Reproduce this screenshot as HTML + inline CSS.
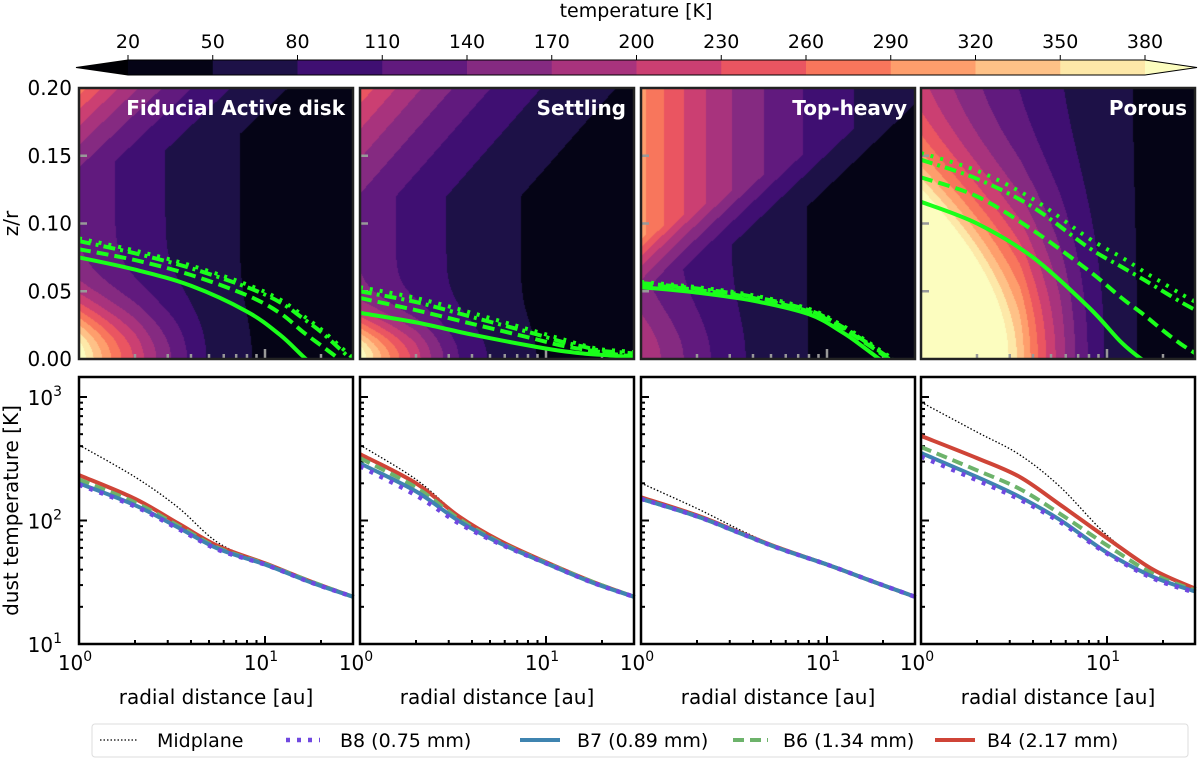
<!DOCTYPE html>
<html><head><meta charset="utf-8"><style>
html,body{margin:0;padding:0;background:#fff;width:1200px;height:759px;overflow:hidden}
#wrap{position:relative;width:1200px;height:759px}
canvas{position:absolute}
svg{position:absolute;left:0;top:0}
text{font-family:"DejaVu Sans","Liberation Sans",sans-serif;fill:#000}
</style></head><body>
<div id="wrap">
<canvas id="c0" width="274" height="271" style="left:79px;top:88px"></canvas>
<canvas id="c1" width="274" height="271" style="left:360px;top:88px"></canvas>
<canvas id="c2" width="274" height="271" style="left:641px;top:88px"></canvas>
<canvas id="c3" width="274" height="271" style="left:921px;top:88px"></canvas>
<svg id="svg" width="1200" height="759" xmlns="http://www.w3.org/2000/svg"></svg>
</div>
<script>
// ---------- data ----------
const panelNames = ["Fiducial Active disk","Settling","Top-heavy","Porous"];
const rPts = [1,2,3.4,5.6,10,17.7,30];
const midT = [[409,225,128,66,45,32,24],[409,215,110,70,46,32,24],[201,125,84,60,44,32,24],[910,520,340,187,76,40,27.5]];
const b4T = [[233,150,95,62,45,32,24],[345,200,108,69,46,32,24],[154,110,80,59.5,44,32,24],[484,320,225,134,72,40,28]];
const b6T = [[215,140,91,60,44.5,32,24],[320,185,103,67,45.5,32,24],[150,108,79,59,44,32,24],[394,255,180,113,63,37,27]];
const b7T = [[200,133,88,59,44,31.5,24],[290,172,99,66,45,31.5,24],[150,108,79,59,44,32,24],[352,225,155,101,55,35,26.5]];
const b8T = [[195,130,86,58,44,31.5,24],[275,160,95,65,45,31.5,24],[150,108,79,59,44,32,24],[330,212,148,97,54,34,26]];
// tau=1 surfaces (z/r) for each panel
const surfR = [1,2,4,8,12,16,20,25,30];
const surfB4 = [[0.075,0.066,0.054,0.035,0.018,0.002,-0.01,-0.02,-0.03],[0.034,0.027,0.018,0.010,0.006,0.004,0.003,0.002,0.001],[0.053,0.049,0.043,0.033,0.020,0.008,-0.002,-0.01,-0.02],[0.116,0.100,0.075,0.038,0.012,-0.002,-0.01,-0.02,-0.03]];
const surfB6 = [[0.081,0.073,0.062,0.047,0.034,0.020,0.010,0.000,-0.01],[0.045,0.036,0.026,0.016,0.010,0.007,0.005,0.003,0.002],[0.055,0.051,0.045,0.035,0.023,0.012,0.003,-0.006,-0.015],[0.134,0.120,0.095,0.065,0.045,0.032,0.021,0.011,0.004]];
const surfB7 = [[0.087,0.078,0.067,0.053,0.042,0.030,0.020,0.008,-0.002],[0.050,0.042,0.031,0.020,0.013,0.009,0.006,0.005,0.004],[0.056,0.052,0.046,0.036,0.024,0.013,0.004,-0.005,-0.014],[0.147,0.133,0.112,0.082,0.068,0.058,0.050,0.042,0.036]];
const surfB8 = [[0.089,0.080,0.069,0.055,0.044,0.032,0.022,0.010,0.000],[0.053,0.045,0.034,0.022,0.015,0.010,0.007,0.006,0.005],[0.057,0.053,0.047,0.037,0.025,0.014,0.005,-0.004,-0.013],[0.152,0.139,0.118,0.089,0.075,0.064,0.056,0.048,0.042]];
// temperature field model params per panel
const tIrr0 = [138,138,140,185];
const tIrrP = [0.51,0.51,0.5,0.5];
const heatB = [11.6,7.5,19,0];
const heatZ0 = [0.14,0.12,0.05,0.2];
const heatZ1 = [0.03,0.0,0.07,0];
const heatCap = [0.1,0.08,0.04,0];
const midZh = [0.04,0.03,0.04,0.11];
const cLevels = [20,50,80,110,140,170,200,230,260,290,320,350,380];
const cColors = ["#050416","#1d1147","#3f0f72","#611a7e","#852a81","#a8337d","#cb3f72","#ea5561","#f8765c","#fe9e6c","#fec187","#fde8a8"];
const cUnder = "#000004", cOver = "#fcfdbf";
const yTickExp = [1,2,3];

// ---------- layout ----------
const PX = [79,360,641,921], PW = 274;
const TOP_Y0 = 88, TOP_H = 271, BOT_Y0 = 377, BOT_H = 267;
const DEC_X = 186, DEC_Y = 123.5;
const xr = (i,r)=>PX[i]+DEC_X*Math.log10(r);
const yT = T=>BOT_Y0+BOT_H-(Math.log10(T)-1)*DEC_Y;
const yz = z=>TOP_Y0+TOP_H-TOP_H*z/0.2;
const NS="http://www.w3.org/2000/svg";
const svg=document.getElementById('svg');
function mk(tag,attrs,parent){const e=document.createElementNS(NS,tag);for(const k in attrs)e.setAttribute(k,attrs[k]);(parent||svg).appendChild(e);return e;}
function smoothRaw(pts){ // pts: [[x,y],...] Catmull-Rom
  let d='M'+pts[0][0].toFixed(1)+','+pts[0][1].toFixed(1);
  for(let k=0;k<pts.length-1;k++){
    const p0=pts[Math.max(k-1,0)],p1=pts[k],p2=pts[k+1],p3=pts[Math.min(k+2,pts.length-1)];
    const c1=[p1[0]+(p2[0]-p0[0])/6,p1[1]+(p2[1]-p0[1])/6],c2=[p2[0]-(p3[0]-p1[0])/6,p2[1]-(p3[1]-p1[1])/6];
    d+=' C'+c1[0].toFixed(1)+','+c1[1].toFixed(1)+' '+c2[0].toFixed(1)+','+c2[1].toFixed(1)+' '+p2[0].toFixed(1)+','+p2[1].toFixed(1);
  }
  return d;
}
function interpLog(xs,ys,x){const lx=Math.log10(x);for(let k=0;k<xs.length-1;k++){const a=Math.log10(xs[k]),b=Math.log10(xs[k+1]);if(lx<=b||k==xs.length-2){const t=(lx-a)/(b-a);return Math.pow(10,Math.log10(ys[k])+t*(Math.log10(ys[k+1])-Math.log10(ys[k])));}}}
function colorFor(T){if(T<cLevels[0])return cUnder;if(T>=cLevels[cLevels.length-1])return cOver;return cColors[Math.floor((T-20)/30)];}
function hex(c){return [parseInt(c.substr(1,2),16),parseInt(c.substr(3,2),16),parseInt(c.substr(5,2),16)];}

// ---------- heatmaps ----------
for(let i=0;i<4;i++){
  const cv=document.getElementById('c'+i),ctx=cv.getContext('2d'),img=ctx.createImageData(274,271);
  for(let px=0;px<274;px++){
    const r=Math.pow(10,(px+0.5)/DEC_X);
    const tirr=tIrr0[i]*Math.pow(r,-tIrrP[i]);
    const tm=interpLog(rPts,midT[i],Math.min(r,30));
    const zs=heatZ0[i]+heatZ1[i]*Math.log10(r);
    for(let py=0;py<271;py++){
      const z=0.2*(271-py-0.5)/271;
      let dz=Math.min(Math.max(z-zs,0),heatCap[i]);
      let T=tirr*Math.exp(heatB[i]*dz)+Math.max(0,tm-tirr)*Math.exp(-Math.pow(z/midZh[i],2));
      const c=hex(colorFor(T));const o=(py*274+px)*4;
      img.data[o]=c[0];img.data[o+1]=c[1];img.data[o+2]=c[2];img.data[o+3]=255;
    }
  }
  ctx.putImageData(img,0,0);
}

// ---------- colorbar ----------
const cbX0=128,cbX1=1145,cbY=60,cbH=15,cbW=(cbX1-cbX0)/12;
let g=mk('g',{});


mk('polygon',{points:`${cbX0},${cbY} 76,${cbY+cbH/2} ${cbX0},${cbY+cbH}`,fill:cUnder},g);
cColors.forEach((c,k)=>{mk('rect',{x:cbX0+k*cbW,y:cbY,width:cbW+0.5,height:cbH,fill:c},g);});
mk('polygon',{points:`${cbX1},${cbY} 1197,${cbY+cbH/2} ${cbX1},${cbY+cbH}`,fill:cOver},g);
mk('polygon',{points:`76,${cbY+cbH/2} ${cbX0},${cbY} ${cbX1},${cbY} 1197,${cbY+cbH/2} ${cbX1},${cbY+cbH} ${cbX0},${cbY+cbH}`,fill:'none',stroke:'#000','stroke-width':1},g);
cLevels.forEach((v,k)=>{const x=cbX0+k*cbW;mk('line',{x1:x,y1:cbY-5,x2:x,y2:cbY,stroke:'#000','stroke-width':1},g);
  const t=mk('text',{x:x,y:cbY-12,'text-anchor':'middle','font-size':19},g);t.textContent=v;});
let t=mk('text',{x:636,y:17,'text-anchor':'middle','font-size':19});t.textContent='temperature [K]';



// ---------- panels ----------
const minorR=[2,3,4,5,6,7,8,9,20,30];
for(let i=0;i<4;i++){
  const x0=PX[i];
  const tg=mk('g',{});
  
  
  minorR.forEach(r=>{const x=xr(i,r);if(x<x0+PW-1)mk('line',{x1:x,y1:TOP_Y0+TOP_H,x2:x,y2:TOP_Y0+TOP_H-5,stroke:'#999','stroke-width':2.5},tg);});
  {const x=xr(i,10);mk('line',{x1:x,y1:TOP_Y0+TOP_H,x2:x,y2:TOP_Y0+TOP_H-10,stroke:'#999','stroke-width':2.5},tg);}
  [0.05,0.1,0.15].forEach(z=>mk('line',{x1:x0,y1:yz(z),x2:x0+8,y2:yz(z),stroke:'#999','stroke-width':2.5},tg));
  const cp=mk('clipPath',{id:'cp'+i},tg);mk('rect',{x:x0,y:TOP_Y0,width:PW,height:TOP_H},cp);
  const sets=[[surfB4,'none'],[surfB6,'12 6'],[surfB7,'12 5 3 5'],[surfB8,'3 7']];
  const snames=['tau-surface-b4','tau-surface-b6','tau-surface-b7','tau-surface-b8'];
  sets.forEach((s,k)=>{
    const d=smoothRaw(surfR.map((r,j)=>[xr(i,r),yz(s[0][i][j])]));
    const p=mk('path',{d:d,fill:'none',stroke:'#1aff1a','stroke-width':4,'stroke-dasharray':s[1],'clip-path':`url(#cp${i})`},tg);
    
    
  });
  mk('rect',{x:x0,y:TOP_Y0,width:PW,height:TOP_H,fill:'none',stroke:'#222','stroke-width':2.5},tg);
  const lt=mk('text',{x:x0+PW-8,y:TOP_Y0+27,'text-anchor':'end','font-size':20,'font-weight':'bold',style:'fill:#fff'},tg);lt.textContent=panelNames[i];
  
  

  const bg=mk('g',{});
  
  
  const yb=BOT_Y0+BOT_H;
  minorR.forEach(r=>{const x=xr(i,r);if(x<x0+PW-1)mk('line',{x1:x,y1:yb,x2:x,y2:yb-4,stroke:'#000','stroke-width':2},bg);});
  mk('line',{x1:xr(i,10),y1:yb,x2:xr(i,10),y2:yb-8,stroke:'#000','stroke-width':2},bg);
  for(let e=1;e<=3;e++){for(let m=1;m<10;m++){const T=m*Math.pow(10,e);const y=yT(T);if(y<BOT_Y0+2)continue;
    mk('line',{x1:x0,y1:y,x2:x0+(m==1?8:4),y2:y,stroke:'#000','stroke-width':2},bg);}}
  function path(arr){return smoothRaw(rPts.map((r,j)=>[xr(i,r),yT(arr[i][j])]));}
  let p;
  p=mk('path',{d:path(midT),fill:'none',stroke:'#000','stroke-width':1.3,'stroke-dasharray':'1.5 2'},bg);
  
  
  p=mk('path',{d:path(b4T),fill:'none',stroke:'#cf4437','stroke-width':4},bg);
  
  
  p=mk('path',{d:path(b6T),fill:'none',stroke:'#6db36b','stroke-width':4,'stroke-dasharray':'11 6'},bg);
  
  
  p=mk('path',{d:path(b7T),fill:'none',stroke:'#3f84b0','stroke-width':4},bg);
  
  
  p=mk('path',{d:path(b8T),fill:'none',stroke:'#7048e0','stroke-width':4.5,'stroke-dasharray':'4 7'},bg);
  
  
  mk('rect',{x:x0,y:BOT_Y0,width:PW,height:BOT_H,fill:'none',stroke:'#000','stroke-width':2.5},bg);
  [0,1].forEach(e=>{const x=xr(i,Math.pow(10,e));const tx=mk('text',{x:x-4,y:yb+26,'text-anchor':'middle','font-size':20},bg);
    tx.innerHTML='10<tspan dy="-9" font-size="14">'+e+'</tspan>';});
  const xl=mk('text',{x:x0+PW/2,y:yb+60,'text-anchor':'middle','font-size':20},bg);xl.textContent='radial distance [au]';
  
  
}
['0.00','0.05','0.10','0.15','0.20'].forEach((s,k)=>{const tt=mk('text',{x:72,y:yz(k*0.05)+7,'text-anchor':'end','font-size':20});tt.textContent=s;});
t=mk('text',{x:0,y:0,'text-anchor':'middle','font-size':20,transform:`translate(18,${TOP_Y0+TOP_H/2}) rotate(-90)`});t.textContent='z/r';


yTickExp.forEach(e=>{const tt=mk('text',{x:62,y:yT(Math.pow(10,e))+8,'text-anchor':'end','font-size':20});tt.innerHTML='10<tspan dy="-9" font-size="14">'+e+'</tspan>';});
t=mk('text',{x:0,y:0,'text-anchor':'middle','font-size':20,transform:`translate(18,${BOT_Y0+BOT_H/2}) rotate(-90)`});t.textContent='dust temperature [K]';



// ---------- legend ----------
const lg=mk('g',{});


mk('rect',{x:92,y:724,width:1096,height:33,rx:3,fill:'#fff',stroke:'#ddd','stroke-width':1},lg);
const legItems=[['Midplane',100,137,157,'#000',1.3,'1.5 2'],['B8 (0.75 mm)',286,320,340,'#7048e0',4.5,'4 7'],['B7 (0.89 mm)',520,560,577,'#3f84b0',4,'none'],['B6 (1.34 mm)',733,768,783,'#6db36b',4,'11 6'],['B4 (2.17 mm)',935,975,987,'#cf4437',4,'none']];
legItems.forEach(it=>{
  const eg=mk('g',{},lg);
  
  
  mk('line',{x1:it[1],y1:740,x2:it[2],y2:740,stroke:it[4],'stroke-width':it[5],'stroke-dasharray':it[6]},eg);
  const tx=mk('text',{x:it[3],y:747,'font-size':19},eg);tx.textContent=it[0];
});
</script>
</body></html>
